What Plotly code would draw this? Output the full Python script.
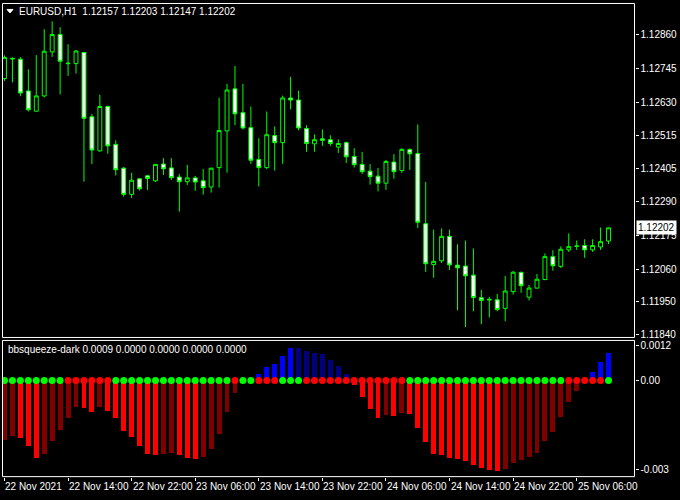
import plotly.graph_objects as go

# ---------------- data ----------------
bars = list(range(77))

opens = [1.12710, 1.12779, 1.12776, 1.12668, 1.12599, 1.12651, 1.12801, 1.12860, 1.12763, 1.12761,
         1.12799, 1.12580, 1.12464, 1.12615, 1.12486, 1.12405, 1.12316, 1.12369, 1.12379, 1.12362,
         1.12419, 1.12406, 1.12375, 1.12359, 1.12372, 1.12362, 1.12341, 1.12407, 1.12532, 1.12675,
         1.12594, 1.12543, 1.12435, 1.12407, 1.12516, 1.12492, 1.12644, 1.12637, 1.12540, 1.12488,
         1.12505, 1.12502, 1.12477, 1.12492, 1.12445, 1.12418, 1.12395, 1.12378, 1.12354, 1.12426,
         1.12397, 1.12469, 1.12455, 1.12216, 1.12077, 1.12090, 1.12173, 1.12075, 1.12072, 1.12041,
         1.11964, 1.11959, 1.11957, 1.11928, 1.11985, 1.12050, 1.11966, 1.11997, 1.12026, 1.12104,
         1.12071, 1.12127, 1.12139, 1.12142, 1.12127, 1.12137, 1.12157]
highs = [1.12789, 1.12782, 1.12783, 1.12742, 1.12790, 1.12878, 1.12905, 1.12885, 1.12827, 1.12807,
         1.12800, 1.12590, 1.12655, 1.12618, 1.12500, 1.12409, 1.12389, 1.12372, 1.12382, 1.12419,
         1.12439, 1.12439, 1.12385, 1.12416, 1.12379, 1.12402, 1.12406, 1.12645, 1.12692, 1.12753,
         1.12692, 1.12615, 1.12507, 1.12598, 1.12547, 1.12652, 1.12716, 1.12669, 1.12551, 1.12520,
         1.12537, 1.12517, 1.12503, 1.12496, 1.12473, 1.12460, 1.12419, 1.12406, 1.12433, 1.12453,
         1.12473, 1.12472, 1.12554, 1.12358, 1.12196, 1.12200, 1.12196, 1.12146, 1.12159, 1.12132,
         1.11991, 1.11967, 1.11977, 1.12038, 1.12055, 1.12054, 1.12008, 1.12045, 1.12115, 1.12126,
         1.12139, 1.12183, 1.12159, 1.12163, 1.12163, 1.12203, 1.12203]
lows = [1.12702, 1.12697, 1.12650, 1.12598, 1.12598, 1.12646, 1.12784, 1.12656, 1.12719, 1.12727,
        1.12359, 1.12419, 1.12461, 1.12454, 1.12380, 1.12308, 1.12304, 1.12329, 1.12331, 1.12358,
        1.12382, 1.12365, 1.12257, 1.12348, 1.12328, 1.12315, 1.12322, 1.12339, 1.12390, 1.12551,
        1.12537, 1.12420, 1.12343, 1.12402, 1.12397, 1.12420, 1.12605, 1.12534, 1.12461, 1.12461,
        1.12481, 1.12481, 1.12457, 1.12423, 1.12407, 1.12386, 1.12349, 1.12326, 1.12331, 1.12369,
        1.12389, 1.12399, 1.12201, 1.12052, 1.12032, 1.12082, 1.12059, 1.11921, 1.11864, 1.11918,
        1.11874, 1.11897, 1.11918, 1.11884, 1.11975, 1.11981, 1.11955, 1.11995, 1.12024, 1.12056,
        1.12065, 1.12120, 1.12127, 1.12100, 1.12120, 1.12127, 1.12147]
closes = [1.12782, 1.12777, 1.12661, 1.12604, 1.12651, 1.12803, 1.12860, 1.12769, 1.12761, 1.12804,
          1.12575, 1.12467, 1.12615, 1.12481, 1.12400, 1.12316, 1.12364, 1.12335, 1.12370, 1.12418,
          1.12403, 1.12373, 1.12359, 1.12372, 1.12358, 1.12339, 1.12405, 1.12533, 1.12671, 1.12590,
          1.12542, 1.12432, 1.12407, 1.12519, 1.12492, 1.12644, 1.12637, 1.12542, 1.12489, 1.12502,
          1.12500, 1.12489, 1.12489, 1.12444, 1.12417, 1.12393, 1.12376, 1.12354, 1.12428, 1.12393,
          1.12469, 1.12454, 1.12221, 1.12080, 1.12088, 1.12173, 1.12076, 1.12066, 1.12039, 1.11965,
          1.11955, 1.11957, 1.11924, 1.11987, 1.12051, 1.12005, 1.11997, 1.12027, 1.12104, 1.12073,
          1.12129, 1.12138, 1.12140, 1.12127, 1.12142, 1.12155, 1.12202]

momentum = [-0.00202, -0.00188, -0.00195, -0.00222, -0.00262, -0.00249, -0.00206, -0.00168, -0.00127, -0.00091,
            -0.00093, -0.00107, -0.00091, -0.00104, -0.00127, -0.00171, -0.00192, -0.00222, -0.00247, -0.00253,
            -0.00249, -0.00246, -0.00253, -0.00262, -0.00266, -0.00259, -0.00232, -0.00181, -0.00107, -0.00043,
            -0.00002, 0.00003, 0.00021, 0.00047, 0.00058, 0.00084, 0.00111, 0.00110, 0.00101, 0.00095,
            0.00089, 0.00071, 0.00050, 0.00024, -0.00016, -0.00056, -0.00097, -0.00125, -0.00118, -0.00121,
            -0.00111, -0.00114, -0.00159, -0.00208, -0.00249, -0.00251, -0.00262, -0.00266, -0.00273, -0.00286,
            -0.00296, -0.00303, -0.00306, -0.00300, -0.00279, -0.00269, -0.00259, -0.00246, -0.00205, -0.00173,
            -0.00124, -0.00072, -0.00035, -0.00002, 0.00028, 0.00064, 0.00094]
# r = falling below zero, d = rising below zero, b = rising above zero, n = falling above zero
hist_state = list("ddrrrdddddrrdrrrrrrrddrrrdddddd"
                  "bbbbbbnnnnnnn"
                  "rrrrdrdr" "rrrrrrrrrrr" "dddddddddd" "d" "bbb")
# g = no squeeze, r = squeeze
squeeze_state = list("gggggggg" "rrrrrr" "ggggggggggggggg" "r" "gg" "rrr" "ggg"
                     "rrrrrrrrrrrrr" "gggggggggggggggggggg" "rrrrr" "g")

price_ticks = [1.12860, 1.12745, 1.12630, 1.12515, 1.12405, 1.12290, 1.12175, 1.12060, 1.11950, 1.11840]
ind_ticks = [0.0012, 0.0, -0.003]
ind_tick_text = ["0.0012", "0.00", "-0.003"]
time_tick_bars = [0, 8, 16, 24, 32, 40, 48, 56, 64, 72]
time_labels = ["22 Nov 2021", "22 Nov 14:00", "22 Nov 22:00", "23 Nov 06:00", "23 Nov 14:00",
               "23 Nov 22:00", "24 Nov 06:00", "24 Nov 14:00", "24 Nov 22:00", "25 Nov 06:00"]
title_text = "EURUSD,H1  1.12157 1.12203 1.12147 1.12202"
ind_title = "bbsqueeze-dark 0.0009 0.0000 0.0000 0.0000 0.0000"
last_price = 1.12202

# ---------------- styling ----------------
W, H = 680, 500
FONT = "Liberation Sans, Arial, sans-serif"
hist_colors = {"r": "#FF0000", "d": "#800000", "b": "#0000FF", "n": "#000080"}
dot_colors = {"g": "#00FF00", "r": "#FF0000"}

def px_x(p):
    return p / W

def px_y(p):
    return 1 - p / H

fig = go.Figure()

fig.add_trace(go.Candlestick(
    x=bars, open=opens, high=highs, low=lows, close=closes,
    xaxis="x", yaxis="y",
    increasing=dict(line=dict(color="#00FF00", width=1), fillcolor="#000000"),
    decreasing=dict(line=dict(color="#00FF00", width=1), fillcolor="#FFFFFF"),
    whiskerwidth=0, showlegend=False, hoverinfo="skip"))

fig.add_trace(go.Bar(
    x=bars, y=momentum, width=0.62,
    marker=dict(color=[hist_colors[s] for s in hist_state], line=dict(width=0)),
    xaxis="x2", yaxis="y2", showlegend=False, hoverinfo="skip"))

fig.add_trace(go.Scatter(
    x=bars, y=[0.0] * len(bars), mode="markers",
    marker=dict(size=7, color=[dot_colors[s] for s in squeeze_state], line=dict(width=0)),
    xaxis="x2", yaxis="y2", showlegend=False, hoverinfo="skip"))

xdom = [px_x(2.5), px_x(634.5)]
xrange = [-0.25, 79.27]
common_x = dict(domain=xdom, range=xrange, showgrid=False, zeroline=False,
                fixedrange=True, showline=False)

fig.update_layout(
    width=W, height=H,
    margin=dict(l=0, r=0, t=0, b=0, pad=0),
    paper_bgcolor="#000000", plot_bgcolor="#000000",
    font=dict(family=FONT, size=10, color="#FFFFFF"),
    showlegend=False,
    bargap=0,
    xaxis=dict(**common_x, anchor="y", showticklabels=False, ticks="",
               rangeslider=dict(visible=False)),
    yaxis=dict(domain=[px_y(338.5), px_y(2.5)], range=[1.118289, 1.129656], side="right",
               anchor="x", tickvals=price_ticks, ticktext=[f"{v:.5f}" for v in price_ticks],
               ticks="outside", ticklen=3, tickcolor="#FFFFFF", tickwidth=1,
               tickfont=dict(family=FONT, size=10, color="#FFFFFF"),
               showgrid=False, zeroline=False, fixedrange=True, showline=False),
    xaxis2=dict(**common_x, anchor="y2", tickvals=time_tick_bars, ticks="outside",
                ticklen=3, tickcolor="#FFFFFF", showticklabels=False),
    yaxis2=dict(domain=[px_y(478.5), px_y(341.5)], range=[-0.003253, 0.001361], side="right",
                anchor="x2", tickvals=ind_ticks, ticktext=ind_tick_text,
                ticks="outside", ticklen=3, tickcolor="#FFFFFF", tickwidth=1,
                tickfont=dict(family=FONT, size=10, color="#FFFFFF"),
                showgrid=False, zeroline=False, fixedrange=True, showline=False),
)

shapes = [
    dict(type="rect", xref="paper", yref="paper", x0=px_x(2.5), x1=px_x(634.5),
         y0=px_y(338.5), y1=px_y(2.5), line=dict(color="#FFFFFF", width=1), fillcolor="rgba(0,0,0,0)"),
    dict(type="rect", xref="paper", yref="paper", x0=px_x(2.5), x1=px_x(634.5),
         y0=px_y(478.5), y1=px_y(341.5), line=dict(color="#FFFFFF", width=1), fillcolor="rgba(0,0,0,0)"),
    dict(type="path", xref="paper", yref="paper",
         path=f"M {px_x(7)},{px_y(8.5)} L {px_x(13)},{px_y(8.5)} L {px_x(10)},{px_y(12)} Z",
         fillcolor="#FFFFFF", line=dict(color="#FFFFFF", width=1)),
]
fig.update_layout(shapes=shapes)

annotations = [
    dict(text=title_text, xref="paper", yref="paper", x=px_x(17), y=px_y(10.5),
         xanchor="left", yanchor="middle", showarrow=False,
         font=dict(family=FONT, size=10, color="#FFFFFF")),
    dict(text=ind_title, xref="paper", yref="paper", x=px_x(6), y=px_y(350.5),
         xanchor="left", yanchor="middle", showarrow=False,
         font=dict(family=FONT, size=10, color="#FFFFFF")),
    dict(text=f"{last_price:.5f}", xref="paper", yref="y", x=px_x(636), y=last_price,
         xanchor="left", yanchor="middle", showarrow=False, bgcolor="#FFFFFF", borderpad=1,
         font=dict(family=FONT, size=10, color="#000000")),
]
for b, lab in zip(time_tick_bars, time_labels):
    annotations.append(dict(text=lab, xref="x2", yref="paper", x=b, y=px_y(488),
                            xanchor="left", yanchor="middle", showarrow=False, xshift=-1,
                            font=dict(family=FONT, size=10, color="#FFFFFF")))
fig.update_layout(annotations=annotations)

fig.write_html(
    "out.html",
    config={"displayModeBar": False, "staticPlot": True},
    post_script="document.body.style.margin='0';document.body.style.padding='0';"
                "document.body.style.background='#000000';"
                "document.documentElement.style.background='#000000';"
                "document.body.style.overflow='hidden';",
)
